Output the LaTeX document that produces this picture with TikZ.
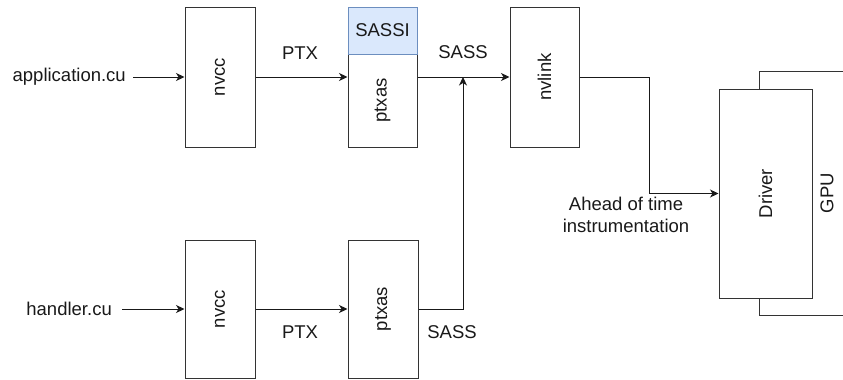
\documentclass[tikz,border=0pt]{standalone}
\usepackage{fontspec}
\setmainfont{Liberation Sans}
\usetikzlibrary{arrows.meta}
\begin{document}
\begin{tikzpicture}[x=1pt,y=-1pt,
  every node/.style={font=\fontsize{18.5}{22}\selectfont, text=black!90},
  stage/.style={draw=black!80, line width=1pt, fill=white, minimum width=70pt, inner sep=0pt},
  vtext/.style={rotate=90},
  lbl/.style={inner sep=0pt},
  flow/.style={draw=black!90, line width=1pt, -{Stealth[length=8.5pt,width=8pt,inset=2.5pt]}},
  wire/.style={draw=black!90, line width=1pt}]
\useasboundingbox (0,0) rectangle (843,380);

% application path
\node[lbl, anchor=east] (app) at (126,77) {application.cu};
\node[stage, minimum height=140pt] (nvccA) at (220,77) {};
\node[vtext] at (nvccA) {nvcc};
\node[stage, minimum height=93pt, minimum width=69pt] (ptxasA) at (382.5,100.5) {};
\node[vtext] at (ptxasA) {ptxas};
\node[stage, fill={rgb,255:red,218;green,232;blue,252}, draw={rgb,255:red,108;green,142;blue,191},
      minimum height=47pt, minimum width=69pt] (sassi) at (382.5,30.5) {SASSI};
\node[stage, minimum height=140pt, minimum width=69pt] (nvlink) at (544.5,77) {};
\node[vtext] at (nvlink) {nvlink};

% GPU frame behind the driver, running off the right edge
\begin{scope}
  \clip (0,0) rectangle (843,380);
  \node[stage, minimum width=136pt, minimum height=244pt] (gpu) at (827,193) {};
  \node[vtext] at (gpu) {GPU};
\end{scope}
\node[stage, minimum width=93pt, minimum height=209pt] (driver) at (765.5,193.5) {};
\node[vtext] at (driver) {Driver};

% handler path
\node[lbl, anchor=east] (handler) at (112,309) {handler.cu};
\node[stage, minimum height=138pt] (nvccB) at (220,309) {};
\node[vtext] at (nvccB) {nvcc};
\node[stage, minimum height=138pt] (ptxasB) at (383,309) {};
\node[vtext] at (ptxasB) {ptxas};

% edge labels
\node[lbl] (ptxA) at (300,53) {PTX};
\node[lbl] (sassA) at (463,52) {SASS};
\node[lbl] (ptxB) at (300,332) {PTX};
\node[lbl] (sassB) at (452,332) {SASS};
\node[lbl, align=center] (aot) at (626,215) {Ahead of time\\instrumentation};

\coordinate (join) at (463,77);
\coordinate (bend) at (649,77);

% connectors
\draw[flow] ([xshift=7pt]app.east) -- (nvccA.west |- app.east);
\draw[flow] (nvccA.east) -- (nvccA.east -| ptxasA.west);
\draw[flow] (nvccA.east -| ptxasA.east) -- (nvlink.west);
\draw[wire] (nvlink.east) -- (bend);
\draw[flow] (bend) |- (driver.west);

\draw[flow] ([xshift=10pt]handler.east) -- (nvccB.west |- handler.east);
\draw[flow] (nvccB.east) -- (ptxasB.west);
\draw[flow] (ptxasB.east) -| (join);
\end{tikzpicture}
\end{document}
